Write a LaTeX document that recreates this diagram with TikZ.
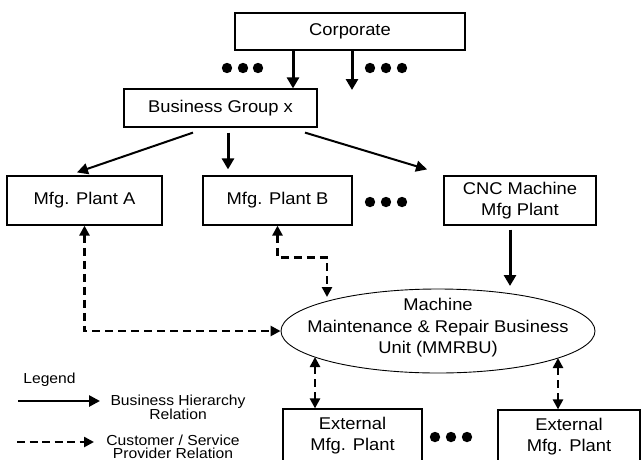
\documentclass[tikz,border=0pt]{standalone}
\usepackage{fontspec}
\setmainfont{Liberation Sans}[FakeStretch=1.08]
\usetikzlibrary{arrows.meta,shapes.geometric}
\begin{document}
\begin{tikzpicture}[x=1pt,y=-1pt,
  box/.style={draw,line width=1.2pt,rectangle,inner sep=0pt,align=center,
    font=\fontsize{17}{21}\selectfont},
  lbl/.style={inner sep=0pt,align=center,font=\fontsize{17}{21.5}\selectfont},
  legtxt/.style={inner sep=0pt,align=center,font=\fontsize{14.5}{13}\selectfont},
  harrow/.style={line width=3pt,-{Triangle[length=11pt,width=12pt]}},
  tharrow/.style={line width=2pt,-{Triangle[length=11pt,width=11pt]}},
  cs/.style={line width=2.8pt,dash pattern=on 8pt off 5pt,
    {Triangle[length=10pt,width=10pt]}-{Triangle[length=10pt,width=10pt]}},
  csone/.style={line width=2.6pt,dash pattern=on 8pt off 4.5pt,
    -{Triangle[length=10pt,width=10pt]}},
  dot/.style={fill=black}
]
\useasboundingbox (0,0) rectangle (643,459);
\clip (0,0) rectangle (643,459);

% boxes
\node[box,minimum width=230pt,minimum height=37pt] (corp) at (350,31.5) {Corporate};
\node[box,minimum width=193pt,minimum height=38pt] (bg) at (220.5,108) {Business Group x};
\node[box,minimum width=155pt,minimum height=49pt] (pa) at (84.5,200.5) {Mfg. Plant A};
\node[box,minimum width=149pt,minimum height=49pt] (pb) at (277.5,200.5) {Mfg. Plant B};
\node[box,minimum width=152pt,minimum height=49pt] (cnc) at (520,200.5) {CNC Machine\\Mfg Plant};
\node[draw,ellipse,line width=0.9pt,minimum width=314pt,minimum height=84pt,inner sep=0pt] (mm) at (438,331) {};
\node[lbl] (mmtext) at (438,328) {Machine\\Maintenance \& Repair Business\\Unit (MMRBU)};
\node[box,minimum width=139pt,minimum height=54pt] (ex1) at (352.5,436) {External\\Mfg. Plant};
\node[box,minimum width=142pt,minimum height=54pt] (ex2) at (569,437) {External\\Mfg. Plant};

% dots
\foreach \x in {227,243,258} \fill[dot] (\x,68) circle (5.2pt);
\foreach \x in {370,386,402} \fill[dot] (\x,68) circle (5.2pt);
\foreach \x in {370,386,402} \fill[dot] (\x,202) circle (5.2pt);
\foreach \x in {435,451,467} \fill[dot] (\x,437) circle (5.2pt);

% hierarchy arrows
\coordinate (corpfree) at (352,90);
\draw[harrow] ([xshift=-57pt]corp.south) -- ([xshift=72.5pt]bg.north);
\draw[harrow] (corp.south -| corpfree) -- (corpfree);
\draw[tharrow] ([shift={(-27.5,5)}]bg.south) -- ([shift={(-7.5,-3)}]pa.north);
\draw[harrow] ([shift={(7.5,5)}]bg.south) -- ([shift={(-49.5,-6)}]pb.north);
\draw[tharrow] ([shift={(84.5,5)}]bg.south) -- ([shift={(-93,-6)}]cnc.north);
\draw[harrow] ([shift={(-10,4)}]cnc.south) -- ([shift={(72,-45)}]mm.center);

% customer / service provider arrows
\draw[cs] (pa.south) |- (mm.west);
\draw[cs] (pb.south) -- ([yshift=-32pt]pb.south) -| ([shift={(-111,-34)}]mm.center);
\draw[cs] ([shift={(-123,26)}]mm.center) -- ([xshift=-37.5pt]ex1.north);
\draw[cs] ([shift={(120,27)}]mm.center) -- ([xshift=-11pt]ex2.north);

% legend
\node[legtxt] (leg) at (49.5,380) {Legend};
\node[legtxt] (lt1) at (178,407.5) {Business Hierarchy\\Relation};
\node[legtxt] (lt2) at (173,447) {Customer / Service\\Provider Relation};
\coordinate (l1a) at (18,401);
\coordinate (l1b) at (100,401);
\coordinate (l2a) at (17,442);
\coordinate (l2b) at (94,442);
\draw[line width=2.6pt,-{Triangle[length=11pt,width=11pt]}] (l1a) -- (l1b);
\draw[csone] (l2a) -- (l2b);
\end{tikzpicture}
\end{document}
